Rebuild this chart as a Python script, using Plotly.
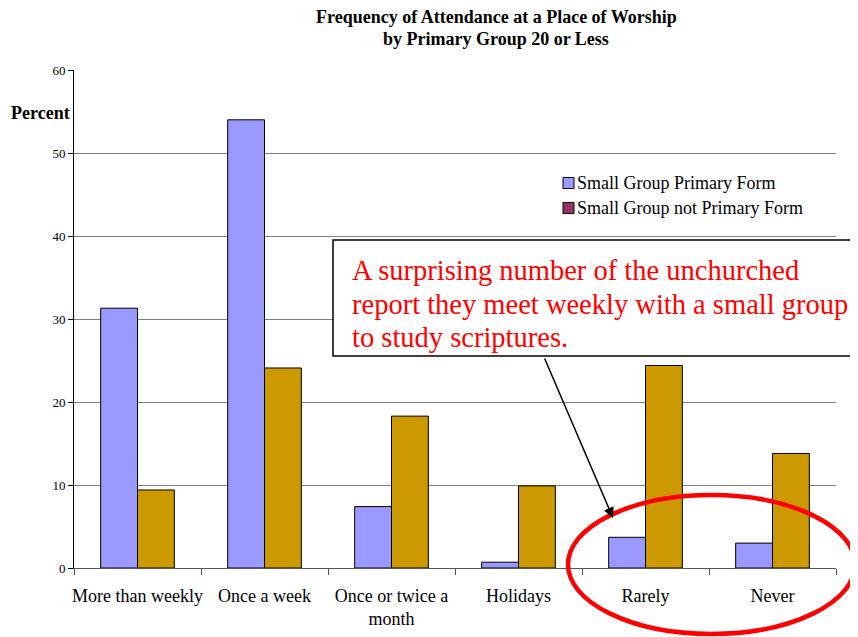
import plotly.graph_objects as go

categories = ["More than weekly", "Once a week", "Once or twice a<br>month",
              "Holidays", "Rarely", "Never"]
primary = [31.3, 54.0, 7.4, 0.7, 3.7, 3.0]
not_primary = [9.4, 24.1, 18.3, 9.9, 24.4, 13.8]
series_names = ["Small Group Primary Form", "Small Group not Primary Form"]
y_ticks = [0, 10, 20, 30, 40, 50, 60]
title_lines = ["Frequency of Attendance at a Place of Worship", "by Primary Group 20 or Less"]
callout_lines = ["A surprising number of the unchurched",
                 "report they meet weekly with a small group",
                 "to study scriptures."]

BLUE = "#9999FF"
GOLD = "#CC9900"
MAROON = "#993366"
FONT = "Liberation Serif"

# page offset (body margin) compensation: figure starts at (8, 8) in the window
OFF = 8
PL, PR, PT, PB = 74, 836, 70, 568          # plot area in window pixels
W, H = 858 - OFF, 637 - OFF
L, T = PL - OFF, PT - OFF
R, B = W - (PR - OFF), H - (PB - OFF)
pw, ph = PR - PL, PB - PT


def px(x):
    return (x - PL) / pw


def py(y):
    return (PB - y) / ph


fig = go.Figure()
fig.add_trace(go.Bar(x=categories, y=primary, name=series_names[0],
                     marker=dict(color=BLUE, line=dict(color="black", width=1)),
                     showlegend=False))
fig.add_trace(go.Bar(x=categories, y=not_primary, name=series_names[1],
                     marker=dict(color=GOLD, line=dict(color="black", width=1)),
                     showlegend=False))

fig.update_layout(
    width=W, height=H,
    margin=dict(l=L, r=R, t=T, b=B, autoexpand=False),
    paper_bgcolor="white", plot_bgcolor="white",
    font=dict(family=FONT, color="black"),
    barmode="group", bargap=0.42, bargroupgap=0,
    showlegend=False,
    xaxis=dict(showgrid=False, showline=True, linecolor="#555", linewidth=1,
               ticks="outside", tickson="boundaries", ticklen=6, tickcolor="#555",
               ticklabelstandoff=11, tickangle=0,
               tickfont=dict(size=18, family=FONT, color="black")),
    yaxis=dict(range=[0, 60], tickvals=y_ticks, showgrid=True, gridcolor="#808080",
               gridwidth=1, showline=True, linecolor="black", linewidth=1,
               ticks="outside", ticklen=5, tickcolor="black", zeroline=False,
               tickfont=dict(size=13, family=FONT, color="black")),
)

# title
for txt, yc in zip(title_lines, [17, 39]):
    fig.add_annotation(text=f"<b>{txt}</b>", xref="paper", yref="paper",
                       x=px(496), y=py(yc), xanchor="center", yanchor="middle",
                       showarrow=False, font=dict(size=18, family=FONT, color="black"))

fig.add_annotation(text="<b>Percent</b>", xref="paper", yref="paper",
                   x=px(72), y=py(113), xanchor="right", yanchor="middle",
                   showarrow=False, font=dict(size=18, family=FONT, color="black"))

# legend (drawn manually to match original placement and swatch colours)
for nm, col, yc in zip(series_names, [BLUE, MAROON], [183, 208]):
    fig.add_shape(type="rect", xref="paper", yref="paper",
                  x0=px(563), x1=px(574), y0=py(yc + 5.5), y1=py(yc - 5.5),
                  line=dict(color="black", width=1), fillcolor=col)
    fig.add_annotation(text=nm, xref="paper", yref="paper", x=px(575), y=py(yc),
                       xanchor="left", yanchor="middle", showarrow=False,
                       font=dict(size=18, family=FONT, color="black"))

# callout box
fig.add_shape(type="rect", xref="paper", yref="paper",
              x0=px(333), x1=px(880), y0=py(356), y1=py(240),
              line=dict(color="black", width=1.5), fillcolor="white", layer="above")
for txt, yc in zip(callout_lines, [270, 304, 337]):
    fig.add_annotation(text=txt, xref="paper", yref="paper", x=px(350), y=py(yc),
                       xanchor="left", yanchor="middle", align="left", showarrow=False,
                       font=dict(size=28.5, family=FONT, color="#FF0000"))
# arrow
fig.add_annotation(text="", xref="paper", yref="paper", x=px(613), y=py(518),
                   axref="pixel", ayref="pixel", ax=544 - 613, ay=357 - 518,
                   showarrow=True, arrowhead=2, arrowsize=1.4, arrowwidth=1.5,
                   arrowcolor="black")
# red ellipse
fig.add_shape(type="circle", xref="paper", yref="paper",
              x0=px(568), x1=px(855), y0=py(634), y1=py(495),
              line=dict(color="#FF0000", width=4.5), layer="above")

fig.write_html("out.html")
